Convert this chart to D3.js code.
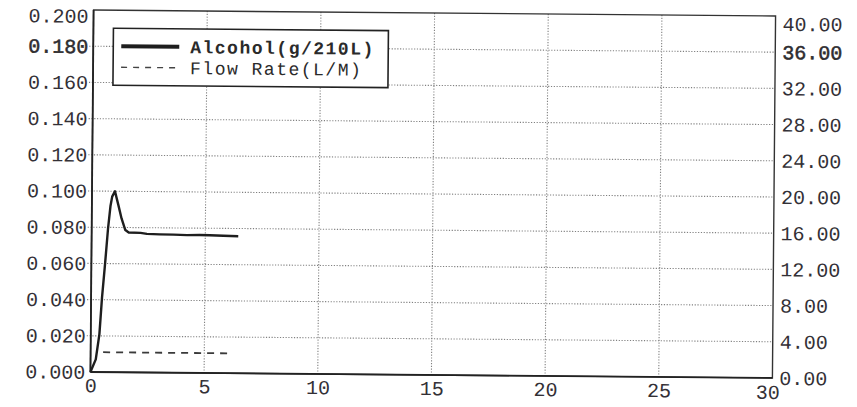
<!DOCTYPE html>
<html>
<head>
<meta charset="utf-8">
<script src="https://cdn.jsdelivr.net/npm/d3@7"></script>
<style>
  html, body { margin: 0; padding: 0; background: #fff; }
  svg { display: block; }
  text { font-family: "Liberation Mono", "DejaVu Sans Mono", monospace; fill: #2a2a2a; }
</style>
</head>
<body>
<svg id="chart" width="857" height="407"></svg>
<script>
// ---- data ----
const alcTime = [0, 0.23, 0.38, 0.48, 0.60, 0.72, 0.82, 0.89, 1.01, 1.16, 1.31, 1.48, 1.63, 2.15, 2.43, 3.0, 3.6, 4.2, 4.75, 5.2, 5.8, 6.45];
const alcohol = [0, 0.007, 0.021, 0.041, 0.0595, 0.0795, 0.092, 0.097, 0.100, 0.0926, 0.085, 0.0786, 0.0773, 0.0771, 0.0766, 0.0764, 0.0763, 0.0761, 0.0762, 0.0761, 0.0759, 0.0757];
const flowTime = [0.55, 1.5, 2.5, 3.5, 4.5, 5.5, 6.2];
const flowRate = [2.2, 2.2, 2.2, 2.2, 2.2, 2.2, 2.2];
const xTicks = [0, 5, 10, 15, 20, 25, 30];
const leftTicks = [0, 0.02, 0.04, 0.06, 0.08, 0.10, 0.12, 0.14, 0.16, 0.18, 0.20];
const rightTicks = [0, 4, 8, 12, 16, 20, 24, 28, 32, 36, 40];
const seriesNames = ["Alcohol(g/210L)", "Flow Rate(L/M)"];

// ---- layout ----
const L = 92, R = 774, T = 13, B = 375;
const svg = d3.select("#chart");
const root = svg.append("g").attr("transform", `rotate(0.5, ${(L + R) / 2}, ${(T + B) / 2})`);

const x = d3.scaleLinear().domain([0, 30]).range([L, R]);
const yL = d3.scaleLinear().domain([0, 0.2]).range([B, T]);
const yR = d3.scaleLinear().domain([0, 40]).range([B, T]);

// gridlines
const grid = root.append("g").attr("stroke", "#808080").attr("stroke-width", 1.1).attr("stroke-dasharray", "1.2,1.6");
grid.selectAll("line.h").data(leftTicks.filter(d => d > 0 && d < 0.2)).join("line")
  .attr("x1", L - 4).attr("x2", R).attr("y1", d => yL(d)).attr("y2", d => yL(d));
grid.selectAll("line.v").data(xTicks.filter(d => d > 0 && d < 30)).join("line")
  .attr("x1", d => x(d)).attr("x2", d => x(d)).attr("y1", T).attr("y2", B);

// axes
const fs = 20;
const axL = root.append("g").attr("transform", `translate(${L},0)`)
  .call(d3.axisLeft(yL).tickValues(leftTicks).tickFormat(d3.format(".3f")).tickSize(0).tickPadding(5));
const axR = root.append("g").attr("transform", `translate(${R},0)`)
  .call(d3.axisRight(yR).tickValues(rightTicks).tickFormat(d3.format(".2f")).tickSize(0).tickPadding(7));
const axB = root.append("g").attr("transform", `translate(0,${B})`)
  .call(d3.axisBottom(x).tickValues(xTicks).tickFormat(d3.format("d")).tickSize(0).tickPadding(6));
[axL, axR, axB].forEach(a => {
  a.select(".domain").remove();
  a.selectAll("text").style("font-size", fs + "px").style("fill", "#333036");
});
axL.selectAll(".tick").filter(d => d === 0.2).select("text").attr("dy", "0.62em");
axR.selectAll(".tick").filter(d => d === 40).select("text").attr("dy", "0.72em");
axL.selectAll(".tick").filter(d => Math.abs(d - 0.18) < 1e-9).select("text").style("stroke", "#222").style("stroke-width", 0.5);
axR.selectAll(".tick").filter(d => d === 36).select("text").style("stroke", "#222").style("stroke-width", 0.5);
axB.selectAll(".tick").filter(d => d === 30).select("text").attr("dx", "-5").attr("dy", "0.75em");

// frame
root.append("rect").attr("x", L).attr("y", T).attr("width", R - L).attr("height", B - T)
  .attr("fill", "none").attr("stroke", "#333").attr("stroke-width", 1.4);
root.append("line").attr("x1", L).attr("x2", L).attr("y1", T).attr("y2", B).attr("stroke", "#222").attr("stroke-width", 1.8);
root.append("line").attr("x1", L).attr("x2", R).attr("y1", B).attr("y2", B).attr("stroke", "#222").attr("stroke-width", 1.8);

// series
const alcData = alcTime.map((t, i) => [t, alcohol[i]]);
const flowData = flowTime.map((t, i) => [t, flowRate[i]]);
root.append("path").datum(alcData)
  .attr("d", d3.line().x(d => x(d[0])).y(d => yL(d[1])).curve(d3.curveLinear))
  .attr("fill", "none").attr("stroke", "#1e1e1e").attr("stroke-width", 2.4).attr("stroke-linejoin", "round");
root.append("path").datum(flowData)
  .attr("d", d3.line().x(d => x(d[0])).y(d => yR(d[1])))
  .attr("fill", "none").attr("stroke", "#3a3a3a").attr("stroke-width", 1.8).attr("stroke-dasharray", "7,6");

// legend
const lg = root.append("g").attr("transform", "translate(112,31)");
lg.append("rect").attr("width", 275).attr("height", 57).attr("fill", "#fff").attr("stroke", "#222").attr("stroke-width", 1.6);
lg.append("line").attr("x1", 8).attr("x2", 66).attr("y1", 18).attr("y2", 18).attr("stroke", "#1e1e1e").attr("stroke-width", 4);
lg.append("line").attr("x1", 8).attr("x2", 66).attr("y1", 39).attr("y2", 39).attr("stroke", "#444").attr("stroke-width", 1.4).attr("stroke-dasharray", "6,6");
lg.selectAll("text").data(seriesNames).join("text")
  .attr("x", 77).attr("y", (d, i) => 18 + i * 21).attr("dy", "0.35em")
  .style("font-size", "18px")
  .style("letter-spacing", "1.5px")
  .style("font-weight", (d, i) => i === 0 ? "bold" : "normal")
  .text(d => d);
</script>
</body>
</html>
